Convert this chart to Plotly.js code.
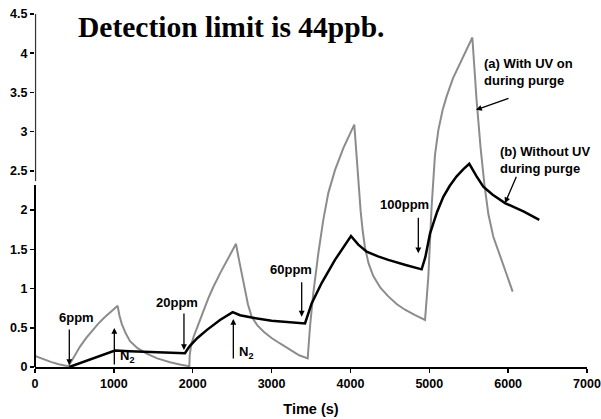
<!DOCTYPE html>
<html>
<head>
<meta charset="utf-8">
<script src="https://cdn.plot.ly/plotly-3.0.1.min.js"></script>
<style>html,body{margin:0;padding:0;background:#fff;}#chart{width:601px;height:419px;}</style>
</head>
<body>
<div id="chart"></div>
<script>
// Series (a): With UV on during purge (gray)
const timeA = [0,100,200,300,422,
  460,500,571,650,720,800,880,960,1048,
  1070,1100,1150,1205,1300,1416,1550,1712,1850,1957,
  1962,1980,2010,2050,2100,2150,2200,2261,2350,2450,2549,
  2580,2621,2660,2700,2748,2820,2900,3000,3107,3250,3350,3458,
  3487,3529,3593,3656,3720,3804,3910,4049,
  4079,4105,4130,4155,4185,4230,4290,4380,4480,4590,4692,4820,4946,
  4988,5030,5072,5115,5170,5220,5300,5389,5470,5546,
  5600,5650,5700,5749,5812,5900,5960,6057];
const valueA = [0.14,0.10,0.065,0.035,0.01,
  0.07,0.14,0.26,0.37,0.46,0.55,0.63,0.70,0.78,
  0.66,0.55,0.43,0.33,0.24,0.17,0.11,0.06,0.03,0.01,
  0.15,0.28,0.38,0.48,0.62,0.75,0.88,1.02,1.20,1.39,1.57,
  1.40,1.20,1.00,0.80,0.64,0.53,0.45,0.37,0.30,0.21,0.15,0.11,
  0.51,0.94,1.45,1.875,2.22,2.51,2.79,3.09,
  2.64,2.27,1.98,1.74,1.52,1.32,1.16,1.01,0.90,0.80,0.73,0.66,0.60,
  1.15,2.05,2.70,3.02,3.28,3.45,3.68,3.87,4.04,4.20,
  3.40,2.80,2.32,1.95,1.66,1.42,1.24,0.96];

// Series (b): Without UV during purge (black)
const timeB = [435,1014,1200,1500,1902,
  1930,1965,2060,2177,2346,2507,
  2600,2748,3000,3200,3424,
  3508,3635,3804,4007,
  4100,4206,4350,4480,4700,4903,
  4950,5009,5100,5178,5260,5347,5430,5507,
  5600,5685,5800,5960,6200,6395];
const valueB = [0.0,0.21,0.20,0.19,0.175,
  0.22,0.27,0.37,0.47,0.60,0.70,
  0.66,0.63,0.59,0.57,0.555,
  0.81,1.07,1.365,1.67,
  1.56,1.47,1.41,1.365,1.30,1.245,
  1.40,1.70,1.98,2.17,2.31,2.43,2.52,2.59,
  2.43,2.30,2.20,2.09,1.98,1.875];

const xTicks = [0,1000,2000,3000,4000,5000,6000,7000];
const yTicks = [0,0.5,1,1.5,2,2.5,3,3.5,4,4.5];

const titleText = 'Detection limit is 44ppb.';
const xTitle = 'Time (s)';

const sans = 'Liberation Sans, Arial, sans-serif';
const lbl = {family: sans, size: 13, color: '#000', weight: 'bold'};

function arrow(x, y, ax, ay) {
  return {x: x, y: y, xref: 'x', yref: 'y', text: '', showarrow: true,
    ax: ax, ay: ay, arrowhead: 2, arrowsize: 0.9, arrowwidth: 1.3, arrowcolor: '#000', standoff: 0, startstandoff: 0};
}
function label(x, y, text, xanchor) {
  return {x: x, y: y, xref: 'x', yref: 'y', text: text, showarrow: false,
    xanchor: xanchor || 'center', yanchor: 'middle', align: 'left', font: lbl};
}

const traces = [
  {x: timeA, y: valueA, type: 'scatter', mode: 'lines', line: {color: '#8c8c8c', width: 2}, hoverinfo: 'skip'},
  {x: timeB, y: valueB, type: 'scatter', mode: 'lines', line: {color: '#000', width: 2.5}, hoverinfo: 'skip'}
];

const layout = {
  width: 601, height: 419,
  margin: {l: 35, r: 14, t: 14, b: 52, pad: 0},
  paper_bgcolor: '#fff', plot_bgcolor: '#fff',
  showlegend: false,
  font: {family: sans, color: '#000'},
  xaxis: {
    range: [0, 7000], tickvals: xTicks, ticktext: xTicks.map(v => '<b>' + v + '</b>'),
    showgrid: false, zeroline: false, showline: true, linecolor: '#000', linewidth: 1.5,
    ticks: 'outside', ticklen: 4, tickwidth: 1.5, tickcolor: '#000',
    tickfont: {family: sans, size: 12.5, color: '#000'},
    title: {text: xTitle, font: {family: sans, size: 14.5, color: '#000', weight: 'bold'}, standoff: 14}
  },
  yaxis: {
    range: [0, 4.5], tickvals: yTicks, ticktext: yTicks.map(v => '<b>' + v + '</b>'),
    showgrid: false, zeroline: false, showline: false,
    ticks: 'outside', ticklen: 4, tickwidth: 1.5, tickcolor: '#000',
    tickfont: {family: sans, size: 12.5, color: '#000'}
  },
  shapes: [
    {type: 'line', xref: 'paper', yref: 'y', x0: 0, x1: 0, y0: 0, y1: 2.32, line: {color: '#000', width: 2}},
    {type: 'line', xref: 'paper', yref: 'y', x0: 0.001, x1: 0.001, y0: 2.37, y1: 4.5, line: {color: '#333', width: 1.2}}
  ],
  annotations: [
    {xref: 'paper', yref: 'paper', x: 0.0743, y: 0.964, xanchor: 'left', yanchor: 'middle', showarrow: false,
     text: titleText, font: {family: 'Liberation Serif, Times New Roman, serif', size: 29.5, color: '#000', weight: 'bold'}},
    label(520, 0.625, '6ppm'),
    arrow(435, 0.025, 0, -37),
    label(1807, 0.823, '20ppm'),
    arrow(1889, 0.217, 0, -38),
    label(3250, 1.237, '60ppm'),
    arrow(3382, 0.642, 0, -36),
    label(4686, 2.066, '100ppm'),
    arrow(4861, 1.45, 0, -37),
    arrow(1006, 0.497, 0, 38),
    label(1052, 0.128, 'N<sub>2</sub>', 'left'),
    arrow(2515, 0.612, 0, 41),
    label(2562, 0.179, 'N<sub>2</sub>', 'left'),
    label(5664, 3.763, '(a) With UV on<br>during purge', 'left'),
    arrow(5592, 3.278, 34, -12),
    label(5867, 2.640, '(b) Without UV<br>during purge', 'left'),
    arrow(5960, 2.088, 12, -28)
  ]
};

Plotly.newPlot('chart', traces, layout, {staticPlot: true, displayModeBar: false});
</script>
</body>
</html>
